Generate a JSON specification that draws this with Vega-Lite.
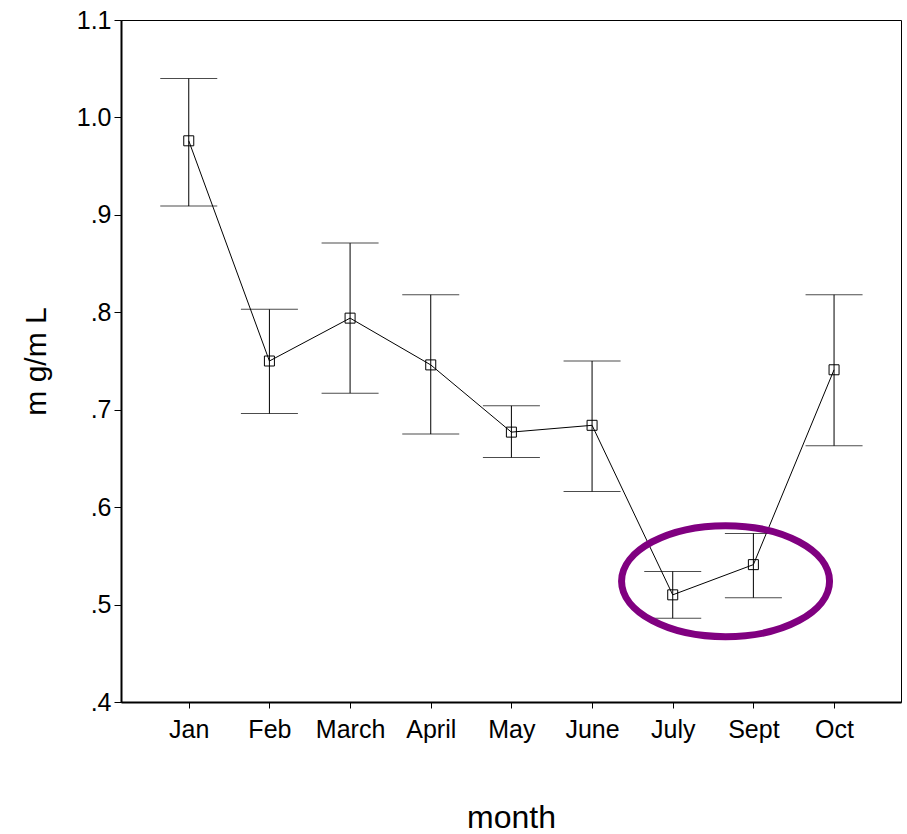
{
  "$schema": "https://vega.github.io/schema/vega-lite/v6.json",
  "autosize": "none",
  "width": 780,
  "height": 682,
  "padding": {"left": 121, "top": 20, "right": 6, "bottom": 132},
  "background": "white",
  "config": {
    "view": {"stroke": "black", "strokeWidth": 1},
    "font": "'Liberation Sans', Arial, sans-serif"
  },
  "datasets": {
    "stats": [
      {"month": "Jan", "idx": 1, "mean": 0.976, "lo": 0.909, "hi": 1.040},
      {"month": "Feb", "idx": 2, "mean": 0.750, "lo": 0.696, "hi": 0.803},
      {"month": "March", "idx": 3, "mean": 0.794, "lo": 0.717, "hi": 0.871},
      {"month": "April", "idx": 4, "mean": 0.746, "lo": 0.675, "hi": 0.818},
      {"month": "May", "idx": 5, "mean": 0.677, "lo": 0.651, "hi": 0.704},
      {"month": "June", "idx": 6, "mean": 0.684, "lo": 0.616, "hi": 0.750},
      {"month": "July", "idx": 7, "mean": 0.510, "lo": 0.486, "hi": 0.534},
      {"month": "Sept", "idx": 8, "mean": 0.541, "lo": 0.507, "hi": 0.573},
      {"month": "Oct", "idx": 9, "mean": 0.741, "lo": 0.663, "hi": 0.818}
    ],
    "highlight": [
      {"cx": 7.655, "cy": 0.524}
    ]
  },
  "data": {"name": "stats"},
  "encoding": {
    "x": {
      "field": "idx",
      "type": "quantitative",
      "scale": {"domain": [0.16, 9.83], "nice": false, "zero": false},
      "axis": {
        "title": "month",
        "values": [1, 2, 3, 4, 5, 6, 7, 8, 9],
        "labelExpr": "['','Jan','Feb','March','April','May','June','July','Sept','Oct'][datum.value]",
        "grid": false,
        "domainColor": "black",
        "domainWidth": 2,
        "tickColor": "black",
        "tickSize": 6,
        "labelFontSize": 25,
        "labelColor": "black",
        "labelPadding": 9,
        "labelFlush": false,
        "titleFontSize": 32,
        "titleFontWeight": "normal",
        "titleColor": "black",
        "titlePadding": 60
      }
    }
  },
  "layer": [
    {
      "mark": {"type": "rule", "color": "black", "strokeWidth": 1},
      "encoding": {
        "y": {
          "field": "lo",
          "type": "quantitative",
          "scale": {"domain": [0.4, 1.1], "nice": false, "zero": false},
          "axis": {
            "title": "m g/m L",
            "values": [0.4, 0.5, 0.6, 0.7, 0.8, 0.9, 1.0, 1.1],
            "labelExpr": "datum.value >= 0.999 ? format(datum.value, '.1f') : replace(format(datum.value, '.1f'), '0.', '.')",
            "grid": false,
            "domainColor": "black",
            "domainWidth": 2,
            "tickColor": "black",
            "tickSize": 7,
            "labelFontSize": 25,
            "labelColor": "black",
            "labelPadding": 3,
            "labelFlush": false,
            "titleFontSize": 30,
            "titleFontWeight": "normal",
            "titleColor": "black",
            "titlePadding": 25
          }
        },
        "y2": {"field": "hi"}
      }
    },
    {
      "mark": {"type": "tick", "orient": "horizontal", "color": "black", "size": 57, "thickness": 1},
      "encoding": {"y": {"field": "lo", "type": "quantitative"}}
    },
    {
      "mark": {"type": "tick", "orient": "horizontal", "color": "black", "size": 57, "thickness": 1},
      "encoding": {"y": {"field": "hi", "type": "quantitative"}}
    },
    {
      "mark": {"type": "line", "color": "black", "strokeWidth": 1},
      "encoding": {"y": {"field": "mean", "type": "quantitative"}}
    },
    {
      "mark": {"type": "point", "shape": "square", "filled": false, "color": "black", "strokeWidth": 1, "size": 100, "opacity": 1},
      "encoding": {"y": {"field": "mean", "type": "quantitative"}}
    },
    {
      "data": {"name": "highlight"},
      "mark": {
        "type": "point",
        "shape": "M1,0 C1,0.2949 0.5523,0.534 0,0.534 C-0.5523,0.534 -1,0.2949 -1,0 C-1,-0.2949 -0.5523,-0.534 0,-0.534 C0.5523,-0.534 1,-0.2949 1,0 Z",
        "filled": false,
        "stroke": "#800080",
        "strokeWidth": 7,
        "opacity": 1,
        "size": 43264
      },
      "encoding": {
        "x": {"field": "cx", "type": "quantitative"},
        "y": {"field": "cy", "type": "quantitative"}
      }
    }
  ]
}
